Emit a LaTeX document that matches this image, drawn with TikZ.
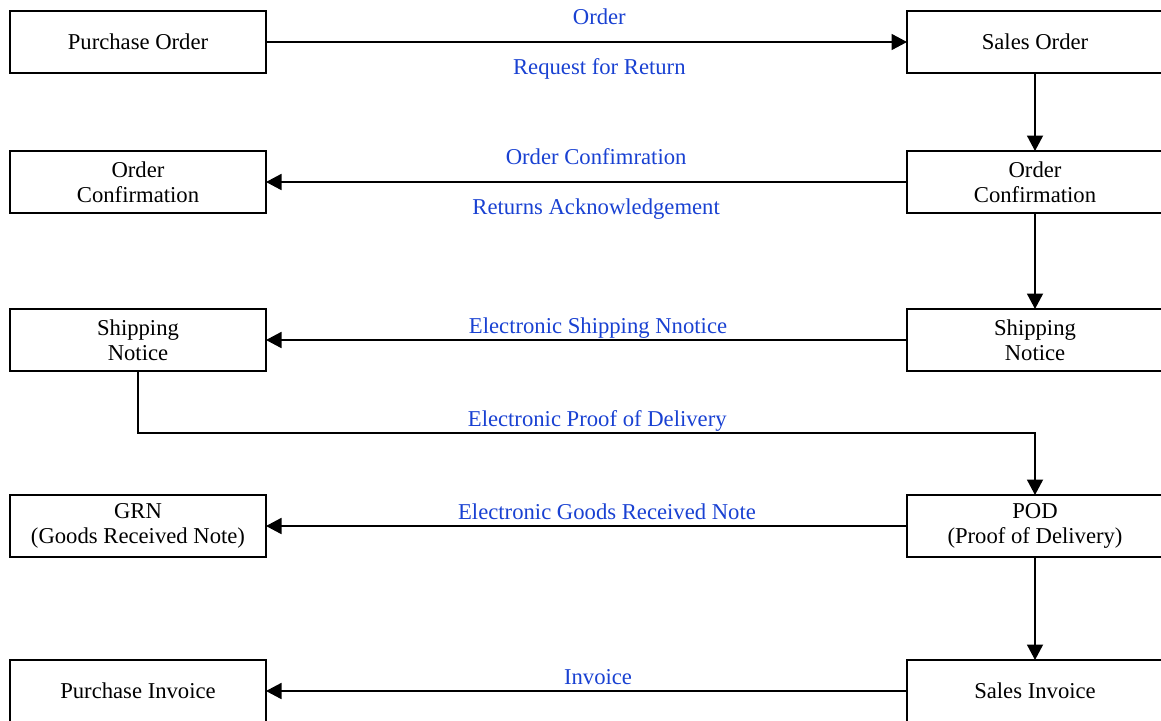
\documentclass[tikz,border=0pt]{standalone}
\usepackage{fontspec}
\setmainfont{Liberation Serif}
\usepackage{xcolor}
\usepackage{tikz}
\usetikzlibrary{
  positioning,
  arrows.meta,
}
\definecolor{msgblue}{RGB}{25,65,210}
\tikzset{
  doc box/.style={
    draw,
    black,
    line width=1pt,
    rectangle,
    outer sep=0pt,
    inner sep=2pt,
    minimum width=5.12cm,
    minimum height=1.24cm,
    align=center
  },
  msg/.style={
    msgblue,
    anchor=base,
    inner sep=0pt
  },
  msg above/.style={msg, yshift=0.36cm},
  msg close/.style={msg, yshift=0.14cm},
  msg below/.style={msg, yshift=-0.64cm}
}

\begin{document}
\begin{tikzpicture}[font=\fontsize{12.9pt}{14.2pt}\selectfont, line width=1pt,
  >={Triangle[length=0.31cm, width=0.32cm]}]
  \useasboundingbox (0,0) rectangle (23.22,-14.4);

  %% Buyer / seller columns
  \node[doc box] (po) at (2.76,-0.84) {Purchase Order};
  \node[doc box, right=12.82cm of po] (so) {Sales Order};
  \node[doc box, below=1.56cm of so] (ocs) {Order\\Confirmation};
  \node[doc box, left=12.82cm of ocs] (ocb) {Order\\Confirmation};
  \node[doc box, below=1.92cm of ocs] (sns) {Shipping\\Notice};
  \node[doc box, left=12.82cm of sns] (snb) {Shipping\\Notice};
  \node[doc box, below=2.48cm of sns] (pod) {POD\\(Proof of Delivery)};
  \node[doc box, left=12.82cm of pod] (grn) {GRN\\(Goods Received Note)};
  \node[doc box, below=2.06cm of pod] (sinv) {Sales Invoice};
  \node[doc box, left=12.82cm of sinv] (pinv) {Purchase Invoice};

  %% Messages
  \draw[->] (po) -- node[msg above, pos=0.52] {Order}
                    node[msg below, pos=0.52] {Request for Return} (so);
  \draw[->] (ocs) -- node[msg above, pos=0.485] {Order Confimration}
                     node[msg below, pos=0.485] {Returns Acknowledgement} (ocb);
  \draw[->] (sns) -- node[msg close, pos=0.482] {Electronic Shipping Nnotice} (snb);
  \draw[->] (snb.south) -- ++(0,-1.24) -| node[msg close, pos=0.256] {Electronic Proof of Delivery} (pod.north);
  \draw[->] (pod) -- node[msg close, pos=0.468] {Electronic Goods Received Note} (grn);
  \draw[->] (sinv) -- node[msg close, pos=0.482] {Invoice} (pinv);

  %% Seller flow
  \draw[->] (so) -- (ocs);
  \draw[->] (ocs) -- (sns);
  \draw[->] (pod) -- (sinv);
\end{tikzpicture}
\end{document}
